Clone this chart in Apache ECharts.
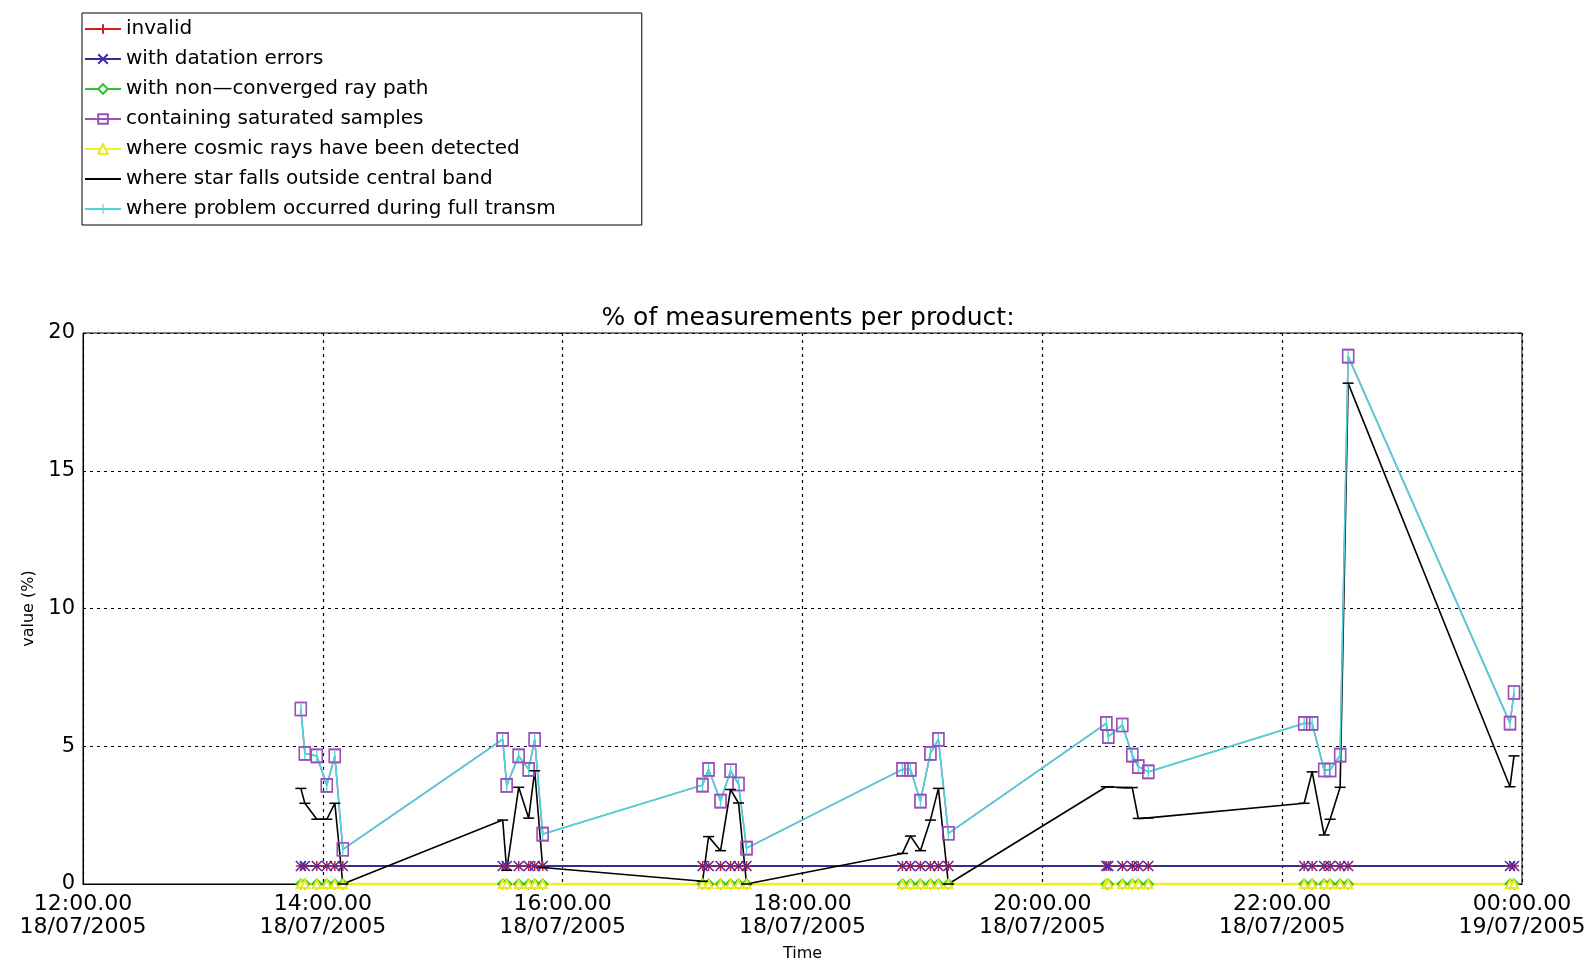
<!DOCTYPE html>
<html>
<head>
<meta charset="utf-8">
<script src="https://cdn.jsdelivr.net/npm/echarts@6/dist/echarts.min.js"></script>
<style>
html,body{margin:0;padding:0;background:#fff;}
#chart{width:1594px;height:967px;}
</style>
</head>
<body>
<div id="chart"></div>
<script>
const times = [
  '2005-07-18 13:49','2005-07-18 13:51','2005-07-18 13:57','2005-07-18 14:02','2005-07-18 14:06','2005-07-18 14:10',
  '2005-07-18 15:30','2005-07-18 15:32','2005-07-18 15:38','2005-07-18 15:43','2005-07-18 15:46','2005-07-18 15:50',
  '2005-07-18 17:10','2005-07-18 17:13','2005-07-18 17:19','2005-07-18 17:24','2005-07-18 17:28','2005-07-18 17:32',
  '2005-07-18 18:50','2005-07-18 18:54','2005-07-18 18:59','2005-07-18 19:04','2005-07-18 19:08','2005-07-18 19:13',
  '2005-07-18 20:32','2005-07-18 20:33','2005-07-18 20:40','2005-07-18 20:45','2005-07-18 20:48','2005-07-18 20:53',
  '2005-07-18 22:11','2005-07-18 22:15','2005-07-18 22:21','2005-07-18 22:24','2005-07-18 22:29','2005-07-18 22:33',
  '2005-07-18 23:54','2005-07-18 23:56'
];
const invalid = [
  0.65,0.65,0.65,0.65,0.65,0.65, 0.65,0.65,0.65,0.65,0.65,0.65,
  0.65,0.65,0.65,0.65,0.65,0.65, 0.65,0.65,0.65,0.65,0.65,0.65,
  0.65,0.65,0.65,0.65,0.65,0.65, 0.65,0.65,0.65,0.65,0.65,0.65, 0.65,0.65
];
const datationErrors = [
  0.65,0.65,0.65,0.65,0.65,0.65, 0.65,0.65,0.65,0.65,0.65,0.65,
  0.65,0.65,0.65,0.65,0.65,0.65, 0.65,0.65,0.65,0.65,0.65,0.65,
  0.65,0.65,0.65,0.65,0.65,0.65, 0.65,0.65,0.65,0.65,0.65,0.65, 0.65,0.65
];
const nonConverged = [
  0,0,0,0,0,0, 0,0,0,0,0,0, 0,0,0,0,0,0, 0,0,0,0,0,0, 0,0,0,0,0,0, 0,0,0,0,0,0, 0,0
];
const saturated = [
  6.35,4.74,4.65,3.58,4.65,1.26,
  5.25,3.58,4.65,4.16,5.25,1.81,
  3.59,4.16,3.01,4.11,3.63,1.30,
  4.16,4.16,3.01,4.74,5.25,1.84,
  5.83,5.35,5.77,4.68,4.26,4.07,
  5.83,5.83,4.14,4.14,4.68,19.16,
  5.84,6.95
];
const cosmicRays = [
  0,0,0,0,0,0, 0,0,0,0,0,0, 0,0,0,0,0,0, 0,0,0,0,0,0, 0,0,0,0,0,0, 0,0,0,0,0,0, 0,0
];
const starOutside = [
  3.47,2.93,2.35,2.35,2.93,0,
  2.32,0.50,3.51,2.39,4.11,0.60,
  0.10,1.72,1.21,3.43,2.94,0,
  1.11,1.74,1.21,2.32,3.47,0,
  3.53,3.53,3.50,3.50,2.38,2.40,
  2.93,4.07,1.78,2.35,3.51,18.18,
  3.53,4.65
];
const fullTransm = [
  6.35,4.74,4.65,3.58,4.65,1.26,
  5.25,3.58,4.65,4.16,5.25,1.81,
  3.59,4.16,3.01,4.11,3.63,1.30,
  4.16,4.16,3.01,4.74,5.25,1.84,
  5.83,5.35,5.77,4.68,4.26,4.07,
  5.83,5.83,4.14,4.14,4.68,19.16,
  5.84,6.95
];
const seriesNames = [
  'invalid',
  'with datation errors',
  'with non\u2014converged ray path',
  'containing saturated samples',
  'where cosmic rays have been detected',
  'where star falls outside central band',
  'where problem occurred during full transm'
];
const axisStart = '2005-07-18 12:00';
const axisEnd = '2005-07-19 00:00';
const yTicks = [0, 5, 10, 15, 20];

function toMs(s) {
  const parts = s.split(' ');
  const d = parts[0].split('-').map(Number);
  const t = parts[1].split(':').map(Number);
  return Date.UTC(d[0], d[1] - 1, d[2], t[0], t[1]);
}
function pair(vals) { return times.map((t, i) => [toMs(t), vals[i]]); }
function pad(n) { return (n < 10 ? '0' : '') + n; }

const FONT = 'DejaVu Sans';
const symPlus = 'path://M5,0L5,10M0,5L10,5';
const symX = 'path://M0,0L10,10M10,0L0,10';
const symSquare = 'path://M0,0L10,0L10,12L0,12Z';
const symHBar = 'path://M0,0M10,10M0,4.3L10,4.3L10,5.7L0,5.7Z';
const symVBar = 'path://M0,0M10,10M4.4,0L5.6,0L5.6,10L4.4,10Z';

const chart = echarts.init(document.getElementById('chart'), null, {renderer: 'canvas'});
chart.setOption({
  animation: false,
  backgroundColor: '#fff',
  title: {
    text: '% of measurements per product:',
    left: 803, top: 301,
    textAlign: 'center',
    textStyle: {fontFamily: FONT, fontSize: 25, fontWeight: 'normal', color: '#000'}
  },
  legend: {
    data: seriesNames,
    orient: 'vertical',
    left: 82, top: 13,
    padding: [6, 86, 6, 2],
    itemWidth: 36, itemHeight: 12, itemGap: 10,
    borderColor: '#000', borderWidth: 1,
    backgroundColor: '#fff',
    selectedMode: false,
    textStyle: {fontFamily: FONT, fontSize: 20, color: '#000', lineHeight: 20}
  },
  grid: {
    left: 83, right: 72, top: 333, bottom: 83,
    show: true, borderColor: '#000', borderWidth: 1, containLabel: false
  },
  xAxis: {
    type: 'value',
    min: toMs(axisStart), max: toMs(axisEnd), interval: 7200000,
    name: 'Time', nameLocation: 'middle', nameGap: 62,
    nameTextStyle: {fontFamily: FONT, fontSize: 16, color: '#000'},
    axisLine: {show: true, lineStyle: {color: '#000', width: 1}},
    axisTick: {show: false},
    splitLine: {show: true, lineStyle: {color: '#000', type: [3, 4], width: 1.2}},
    axisLabel: {
      showMinLabel: true, showMaxLabel: true, margin: 9,
      fontFamily: FONT, fontSize: 22, color: '#000', lineHeight: 23,
      formatter: function (v) {
        const d = new Date(v);
        return pad(d.getUTCHours()) + ':' + pad(d.getUTCMinutes()) + '.' + pad(d.getUTCSeconds()) +
          '\n' + pad(d.getUTCDate()) + '/' + pad(d.getUTCMonth() + 1) + '/' + d.getUTCFullYear();
      }
    }
  },
  yAxis: {
    type: 'value',
    min: yTicks[0], max: yTicks[yTicks.length - 1], interval: yTicks[1] - yTicks[0],
    name: 'value (%)', nameLocation: 'middle', nameGap: 46, nameRotate: 90,
    nameTextStyle: {fontFamily: FONT, fontSize: 16, color: '#000'},
    axisLine: {show: true, lineStyle: {color: '#000', width: 1}},
    axisTick: {show: false},
    splitLine: {show: true, lineStyle: {color: '#000', type: [3, 4], width: 1.2}},
    axisLabel: {margin: 8, fontFamily: FONT, fontSize: 21, color: '#000'}
  },
  series: [
    {
      name: seriesNames[0], type: 'line', data: pair(invalid), clip: false,
      symbol: symPlus, symbolSize: 10,
      lineStyle: {color: '#d02020', width: 2},
      itemStyle: {color: '#d02020', borderColor: '#d02020', borderWidth: 1.5}
    },
    {
      name: seriesNames[1], type: 'line', data: pair(datationErrors), clip: false,
      symbol: symX, symbolSize: 10,
      lineStyle: {color: '#30308f', width: 2},
      itemStyle: {color: '#4a2ab0', borderColor: '#4a2ab0', borderWidth: 1.5}
    },
    {
      name: seriesNames[2], type: 'line', data: pair(nonConverged), clip: false,
      symbol: 'emptyDiamond', symbolSize: 9,
      lineStyle: {color: '#30c030', width: 2},
      itemStyle: {color: '#30c030', borderWidth: 1}
    },
    {
      name: seriesNames[3], type: 'line', data: pair(saturated), clip: false,
      symbol: symSquare, symbolSize: [11, 13],
      lineStyle: {color: '#9a50b8', width: 1.5},
      itemStyle: {color: 'rgba(0,0,0,0)', borderColor: '#9a50b8', borderWidth: 1.5}
    },
    {
      name: seriesNames[4], type: 'line', data: pair(cosmicRays), clip: false,
      symbol: 'emptyTriangle', symbolSize: 8,
      lineStyle: {color: '#f2f020', width: 2.5},
      itemStyle: {color: '#e8e820', borderWidth: 1}
    },
    {
      name: seriesNames[5], type: 'line', data: pair(starOutside), clip: false,
      symbol: symHBar, symbolSize: 11,
      lineStyle: {color: '#000', width: 1.6},
      itemStyle: {color: '#000'}
    },
    {
      name: seriesNames[6], type: 'line', data: pair(fullTransm), clip: false,
      symbol: symVBar, symbolSize: 11,
      lineStyle: {color: '#4fd4d8', width: 1.6},
      itemStyle: {color: '#4fd4d8'}
    },
    {
      name: seriesNames[3], type: 'scatter', data: pair(saturated),
      symbol: symSquare, symbolSize: [11, 13],
      itemStyle: {color: 'rgba(0,0,0,0)', borderColor: '#9a50b8', borderWidth: 1.5}
    }
  ]
});
</script>
</body>
</html>
